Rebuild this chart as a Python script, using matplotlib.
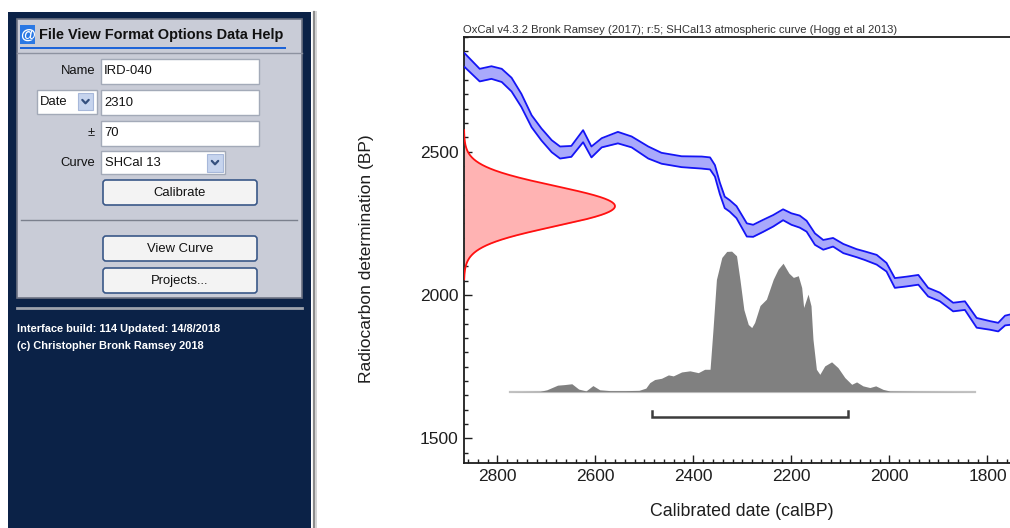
import numpy as np
import matplotlib
matplotlib.use("Agg")
import matplotlib.pyplot as plt
from matplotlib.patches import Rectangle, FancyBboxPatch
from matplotlib.ticker import MultipleLocator, FixedLocator

# ---------------- data ----------------
sample_name = "IRD-040"
c14_age = 2310
c14_error = 70
curve_label = "SHCal 13"
range_start = 2485
range_end = 2085
range_prob = "95.4%"

header = ("OxCal v4.3.2 Bronk Ramsey (2017); r:5; "
          "SHCal13 atmospheric curve (Hogg et al 2013)")

# calibration curve: calendar age (calBP), radiocarbon age (BP), 1-sigma (BP)
curve_cal = [2870, 2866, 2836, 2812, 2791, 2771, 2751, 2730, 2710, 2689,
             2672, 2649, 2625, 2608, 2587, 2554, 2526, 2492, 2465, 2424,
             2383, 2366, 2356, 2346, 2336, 2326, 2312, 2291, 2278, 2258,
             2237, 2217, 2200, 2183, 2169, 2152, 2135, 2115, 2094, 2067,
             2050, 2026, 2006, 1989, 1965, 1941, 1921, 1897, 1870, 1846,
             1822, 1795, 1778, 1764, 1754]
curve_bp = [2823, 2818, 2767, 2776, 2766, 2734, 2679, 2606, 2560, 2519,
            2497, 2501, 2554, 2499, 2531, 2549, 2534, 2497, 2477, 2465,
            2462, 2459, 2433, 2372, 2323, 2311, 2289, 2227, 2224, 2241,
            2259, 2280, 2265, 2256, 2240, 2195, 2175, 2184, 2162, 2146,
            2137, 2123, 2097, 2042, 2047, 2053, 2010, 1993, 1958, 1963,
            1903, 1894, 1888, 1911, 1914]
curve_sigma = [24, 24, 22, 22, 23, 24, 23, 21, 21, 21,
               21, 19, 21, 19, 16, 20, 19, 21, 19, 19,
               21, 21, 20, 20, 20, 20, 21, 23, 21, 21,
               20, 19, 20, 21, 19, 20, 17, 15, 16, 14,
               15, 17, 15, 17, 17, 17, 15, 15, 15, 15,
               17, 15, 15, 17, 18]

# calibrated probability distribution (relative)
post_cal = [2775, 2713, 2699, 2677, 2663, 2648, 2634, 2619, 2605, 2591,
            2570, 2540, 2511, 2497, 2489, 2479, 2465, 2451, 2441, 2424,
            2407, 2390, 2377, 2366, 2360, 2353, 2342, 2332, 2322, 2312,
            2305, 2297, 2288, 2281, 2275, 2264, 2251, 2237, 2227, 2217,
            2210, 2205, 2196, 2186, 2179, 2175, 2166, 2160, 2156, 2149,
            2142, 2132, 2118, 2105, 2091, 2077, 2067, 2054, 2040, 2028,
            2013, 1999, 1938, 1826]
post_prob = [0.0, 0.002, 0.013, 0.046, 0.050, 0.056, 0.018, 0.005, 0.043, 0.013,
             0.007, 0.007, 0.009, 0.025, 0.064, 0.086, 0.095, 0.119, 0.112, 0.140,
             0.148, 0.135, 0.159, 0.159, 0.442, 0.798, 0.955, 0.998, 1.000, 0.967,
             0.798, 0.584, 0.478, 0.456, 0.492, 0.613, 0.658, 0.800, 0.872, 0.914,
             0.872, 0.843, 0.813, 0.825, 0.741, 0.599, 0.694, 0.611, 0.373, 0.159,
             0.123, 0.183, 0.212, 0.171, 0.100, 0.052, 0.069, 0.041, 0.029, 0.041,
             0.016, 0.004, 0.002, 0.0]

x_ticks = [2800, 2600, 2400, 2200, 2000, 1800]
y_ticks = [1500, 2000, 2500]
x_limits = (2868, 1754)
y_limits = (1414, 2900)

# ---------------- figure ----------------
W, H = 1010, 528
fig = plt.figure(figsize=(W / 100, H / 100), dpi=100)
fig.patch.set_facecolor("white")
renderer = fig.canvas.get_renderer()

SANS = ["Liberation Sans", "DejaVu Sans"]
NARROW = ["Liberation Sans Narrow", "Liberation Sans", "DejaVu Sans"]

ui = fig.add_axes([0, 0, 1, 1])
ui.set_xlim(0, W)
ui.set_ylim(H, 0)
ui.axis("off")


def fit_text(ax, x, y, s, width, size=10, **kw):
    t = ax.text(x, y, s, fontsize=size, **kw)
    w = t.get_window_extent(renderer=renderer).width
    t.set_fontsize(size * width / w)
    return t


NAVY = "#0b2247"
PANEL = "#c9ccd7"

# side panel background
ui.add_patch(Rectangle((8, 12), 303, H - 12, fc=NAVY, ec="none"))
ui.plot([313.5, 313.5], [12, H], color="#8c8c8c", lw=1.6)
ui.plot([315.8, 315.8], [12, H], color="#d4d4d4", lw=1.4)

# form panel
ui.add_patch(Rectangle((17, 19), 285, 279, fc=PANEL, ec="#6d7383", lw=1.2))
ui.plot([17, 302], [52.5, 52.5], color="#8d92a0", lw=1.0)

# menu bar
ui.add_patch(Rectangle((20, 25), 15, 19, fc="#2a78e4", ec="none"))
ui.text(27.5, 35, "@", color="white", fontsize=11, fontweight="bold",
        ha="center", va="center", family=SANS)
fit_text(ui, 39, 35, "File View Format Options Data Help", 246, size=10.5,
         fontweight="bold", va="center", ha="left", family=SANS, color="#111111")
ui.add_patch(Rectangle((20, 46.5), 266, 2.6, fc="#1d64d8", ec="none"))

UI_FS = 9.4
BOX_EC = "#a3aab8"


def textbox(x0, y0, x1, y1, txt):
    ui.add_patch(Rectangle((x0, y0), x1 - x0, y1 - y0, fc="white", ec=BOX_EC, lw=1))
    if txt:
        ui.text(x0 + 3, (y0 + y1) / 2 + 0.5, txt, fontsize=UI_FS, va="center",
                ha="left", family=SANS, color="#111111")


def chevron_button(x0, y0, x1, y1):
    ui.add_patch(Rectangle((x0, y0), x1 - x0, y1 - y0, fc="#c6d4ee", ec="#a7b8da", lw=0.8))
    cx, cy = (x0 + x1) / 2, (y0 + y1) / 2
    ui.plot([cx - 3.2, cx, cx + 3.2], [cy - 1.6, cy + 1.8, cy - 1.6],
            color="#34507f", lw=1.6, solid_capstyle="round")


def button(x0, y0, x1, y1, txt):
    ui.add_patch(FancyBboxPatch((x0, y0), x1 - x0, y1 - y0,
                                boxstyle="round,pad=0,rounding_size=3",
                                fc="#f3f3f3", ec="#3a5888", lw=1.2))
    ui.text((x0 + x1) / 2, (y0 + y1) / 2 + 0.5, txt, fontsize=UI_FS, ha="center",
            va="center", family=SANS, color="#111111")


# form rows
ui.text(95, 71.5, "Name", fontsize=UI_FS, ha="right", va="center", family=SANS, color="#111111")
textbox(101, 58.5, 259, 83.5, sample_name)

ui.add_patch(Rectangle((36.5, 89.5), 60, 24, fc="white", ec=BOX_EC, lw=1))
ui.text(40, 102, "Date", fontsize=UI_FS, ha="left", va="center", family=SANS, color="#111111")
chevron_button(78, 93, 93, 110)
textbox(101, 89.5, 259, 114.5, str(c14_age))

ui.text(95, 133, "\u00b1", fontsize=UI_FS, ha="right", va="center", family=SANS, color="#111111")
textbox(101, 120.5, 259, 145.5, str(c14_error))

ui.text(95, 162.5, "Curve", fontsize=UI_FS, ha="right", va="center", family=SANS, color="#111111")
ui.add_patch(Rectangle((101, 151), 124, 23, fc="white", ec=BOX_EC, lw=1))
ui.text(105, 163, curve_label, fontsize=UI_FS, ha="left", va="center", family=SANS, color="#111111")
chevron_button(207, 153.5, 223, 171.5)

button(103, 180, 257, 205, "Calibrate")
ui.plot([21, 297], [220, 220], color="#7b808d", lw=1.0)
button(103, 236, 257, 261, "View Curve")
button(103, 268, 257, 293, "Projects...")

# footer
ui.plot([17, 302], [308, 308], color="#9ea3ad", lw=2)
fit_text(ui, 17, 329, "Interface build: 114 Updated: 14/8/2018", 203, size=8.5,
         color="white", fontweight="bold", va="center", ha="left", family=NARROW)
fit_text(ui, 17, 346, "(c) Christopher Bronk Ramsey 2018", 187, size=8.5,
         color="white", fontweight="bold", va="center", ha="left", family=NARROW)

# ---------------- calibration plot ----------------
AX_L, AX_T, AX_B = 464, 37, 463
ax = fig.add_axes([AX_L / W, 1 - AX_B / H, (W - AX_L) / W, (AX_B - AX_T) / H])
ax.set_facecolor("white")
ax.set_xlim(*x_limits)
ax.set_ylim(*y_limits)

cal = np.array(curve_cal, float)
bp = np.array(curve_bp, float)
sg = np.array(curve_sigma, float)
ax.fill_between(cal, bp - sg, bp + sg, color="#a9a9fb", lw=0, zorder=2)
ax.plot(cal, bp + sg, color="#1414f5", lw=1.3, zorder=3, solid_joinstyle="round")
ax.plot(cal, bp - sg, color="#1414f5", lw=1.3, zorder=3, solid_joinstyle="round")

# radiocarbon measurement on the y axis
yy = np.linspace(c14_age - 255, c14_age + 265, 400)
g = np.exp(-0.5 * ((yy - c14_age) / c14_error) ** 2)
gauss_extent = 308
xg = x_limits[0] - gauss_extent * g
ax.fill_betweenx(yy, x_limits[0], xg, color="#ffb3b3", lw=0, zorder=2)
ax.plot(xg, yy, color="#ff1010", lw=1.3, zorder=3)

# calibrated distribution
post_base = 1663
post_height = 490
pc = np.array(post_cal, float)
pp = np.array(post_prob, float)
ax.plot([pc[0], pc[-1]], [post_base, post_base], color="#c2c2c2", lw=1.6, zorder=2)
ax.fill_between(pc, post_base, post_base + post_height * pp, color="#808080",
                lw=0, zorder=3)

# 95.4% range bracket
br_y, br_tip = 1573, 1597
ax.plot([range_start, range_start, range_end, range_end],
        [br_tip, br_y, br_y, br_tip], color="#3c3c3c", lw=1.8, zorder=3,
        solid_joinstyle="miter")

# axes styling
ax.spines["right"].set_visible(False)
for side in ("left", "bottom", "top"):
    ax.spines[side].set_color("#1e1e1e")
    ax.spines[side].set_linewidth(1.3)
ax.xaxis.set_major_locator(FixedLocator(x_ticks))
ax.xaxis.set_minor_locator(MultipleLocator(20))
ax.yaxis.set_major_locator(FixedLocator(y_ticks))
ax.yaxis.set_minor_locator(MultipleLocator(50))
ax.tick_params(which="both", direction="in", top=False, right=False,
               color="#1e1e1e", width=1.0)
ax.tick_params(which="major", length=6, labelsize=12.5, labelcolor="#1e1e1e", pad=4)
ax.tick_params(which="minor", length=3)
for lab in ax.get_xticklabels() + ax.get_yticklabels():
    lab.set_family(SANS)

# texts around the plot
fit_text(ui, 463, 35, header, 435, size=7.5, ha="left", va="bottom",
         family=SANS, color="#333333")
fit_text(ui, 742.5, 53, f"{sample_name} R_Date({c14_age},{c14_error})", 251,
         size=15.5, ha="center", va="center", family=SANS, color="#111111")
fit_text(ui, 766, 78, f"{range_prob} probability", 136, size=13,
         ha="left", va="center", family=SANS, color="#111111")
fit_text(ui, 770, 102, f"{range_start} ({range_prob}) {range_end}calBP", 205,
         size=13, ha="left", va="center", family=SANS, color="#111111")
fit_text(ui, 742, 512, "Calibrated date (calBP)", 184, size=12.5,
         ha="center", va="center", family=SANS, color="#1e1e1e")
ylab = ui.text(366, 259, "Radiocarbon determination (BP)", rotation=90,
               fontsize=12.5, ha="center", va="center", family=SANS, color="#1e1e1e")

fig.savefig("out.png", dpi=100)
